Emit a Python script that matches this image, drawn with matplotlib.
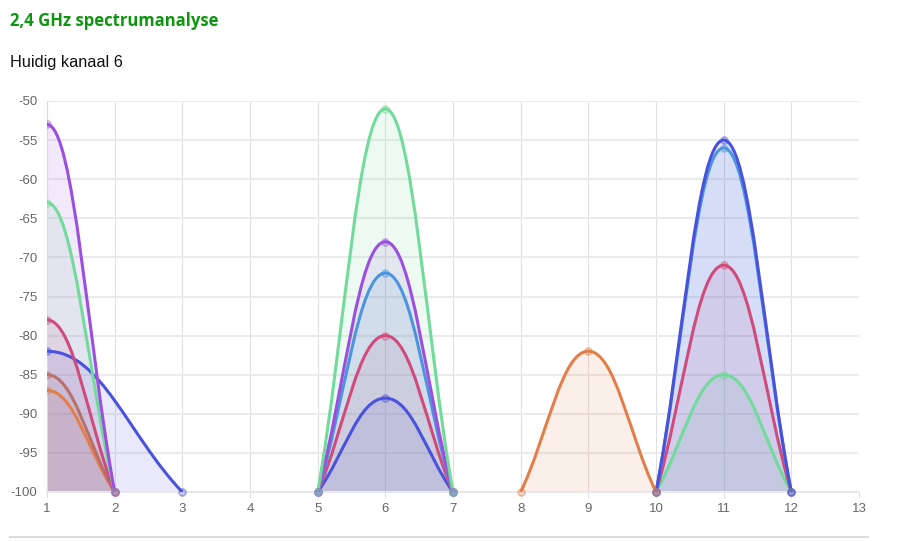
import numpy as np
import matplotlib
matplotlib.use('Agg')
import matplotlib.pyplot as plt
from matplotlib.path import Path
from matplotlib.patches import PathPatch
from matplotlib.lines import Line2D
from matplotlib.colors import to_rgba

plt.rcParams['font.family'] = ['Liberation Sans', 'DejaVu Sans']
plt.rcParams['axes.unicode_minus'] = False

# gemeten signalen (kanaal, dBm) - eindpunten op -100
purple_ch1_x = [0, 1, 2]
purple_ch1_y = [-100, -53, -100]
green_ch1_x = [0, 1, 2]
green_ch1_y = [-100, -63, -100]
pink_ch1_x = [0, 1, 2]
pink_ch1_y = [-100, -78, -100]
blue_ch1_x = [-1, 1, 3]
blue_ch1_y = [-100, -82, -100]
brown_ch1_x = [0, 1, 2]
brown_ch1_y = [-100, -85, -100]
orange_ch1_x = [0, 1, 2]
orange_ch1_y = [-100, -87, -100]

ch6_x = [5, 6, 7]
green_ch6_y = [-100, -51, -100]
purple_ch6_y = [-100, -68, -100]
lblue_ch6_y = [-100, -72, -100]
pink_ch6_y = [-100, -80, -100]
blue_ch6_y = [-100, -88, -100]

orange_ch9_x = [8, 9, 10]
orange_ch9_y = [-100, -82, -100]

ch11_x = [10, 11, 12]
blue_ch11_y = [-100, -55, -100]
lblue_ch11_y = [-100, -56, -100]
pink_ch11_y = [-100, -71, -100]
green_ch11_y = [-100, -85, -100]

x_ticks = list(range(1, 14))
y_ticks = list(range(-100, -49, 5))

PURPLE = '#9a4fe0'
GREEN = '#72da9a'
PINK = '#d04a7c'
BLUE = '#4a52dd'
LBLUE = '#4c95dc'
BROWN = '#b8706e'
ORANGE = '#e37e4a'

series = [
    (purple_ch1_x, purple_ch1_y, PURPLE),
    (green_ch1_x, green_ch1_y, GREEN),
    (pink_ch1_x, pink_ch1_y, PINK),
    (blue_ch1_x, blue_ch1_y, BLUE),
    (brown_ch1_x, brown_ch1_y, BROWN),
    (orange_ch1_x, orange_ch1_y, ORANGE),
    (ch6_x, green_ch6_y, GREEN),
    (ch6_x, purple_ch6_y, PURPLE),
    (ch6_x, lblue_ch6_y, LBLUE),
    (ch6_x, pink_ch6_y, PINK),
    (ch6_x, blue_ch6_y, BLUE),
    (orange_ch9_x, orange_ch9_y, ORANGE),
    (ch11_x, blue_ch11_y, BLUE),
    (ch11_x, lblue_ch11_y, LBLUE),
    (ch11_x, pink_ch11_y, PINK),
    (ch11_x, green_ch11_y, GREEN),
]

TENSION = 0.4
SX, SY = 67.7, 7.82  # pixels per data unit, for the spline weights


def spline_verts(xs, ys, t=TENSION):
    # chart.js-achtige bezier controlepunten
    pts = list(zip(xs, ys))
    n = len(pts)
    cps = []
    for i in range(n):
        prev = pts[max(i - 1, 0)]
        cur = pts[i]
        nxt = pts[min(i + 1, n - 1)]
        d01 = np.hypot((cur[0] - prev[0]) * SX, (cur[1] - prev[1]) * SY)
        d12 = np.hypot((nxt[0] - cur[0]) * SX, (nxt[1] - cur[1]) * SY)
        tot = d01 + d12
        s01 = d01 / tot if tot else 0
        s12 = d12 / tot if tot else 0
        fa, fb = t * s01, t * s12
        cp1 = (cur[0] - fa * (nxt[0] - prev[0]), cur[1] - fa * (nxt[1] - prev[1]))
        cp2 = (cur[0] + fb * (nxt[0] - prev[0]), cur[1] + fb * (nxt[1] - prev[1]))
        cps.append((cp1, cp2))
    verts = [pts[0]]
    codes = [Path.MOVETO]
    for i in range(1, n):
        verts += [cps[i - 1][1], cps[i][0], pts[i]]
        codes += [Path.CURVE4] * 3
    return verts, codes


fig = plt.figure(figsize=(8.97, 5.41), dpi=100)
ax = fig.add_axes([47 / 897, 1 - 492 / 541, 812 / 897, 391 / 541])

for xs, ys, col in reversed(series):
    verts, codes = spline_verts(xs, ys)
    fverts = verts + [(xs[-1], -100), (xs[0], -100), verts[0]]
    fcodes = codes + [Path.LINETO, Path.LINETO, Path.CLOSEPOLY]
    ax.add_patch(PathPatch(Path(fverts, fcodes), facecolor=col, alpha=0.12,
                           edgecolor='none', zorder=2))
    ax.add_patch(PathPatch(Path(verts, codes), facecolor='none', edgecolor=col,
                           lw=2.2, zorder=3))
    for x, y in zip(xs, ys):
        if x < 1:
            continue
        ax.plot([x], [y], 'o', ms=5, mfc=to_rgba(col, 0.25),
                mec=to_rgba(col, 0.45), mew=1.2, zorder=4, clip_on=(x == 1))

ax.set_xlim(1, 13)
ax.set_ylim(-100, -50)
ax.set_xticks(x_ticks)
ax.set_yticks(y_ticks)
ax.grid(True, axis='y', color='#ebebeb', lw=1.5)
ax.grid(True, axis='x', color='#e0e0e0', lw=0.8)
ax.set_axisbelow(True)
for s in ax.spines.values():
    s.set_visible(False)
ax.spines['left'].set_visible(True)
ax.spines['left'].set_color('#d9d9d9')
ax.spines['bottom'].set_visible(True)
ax.spines['bottom'].set_color('#e8e8e8')
ax.spines['bottom'].set_linewidth(1.5)
ax.tick_params(axis='both', colors='#e0e0e0', labelcolor='#666666', labelsize=9.5,
               width=0.8)
ax.tick_params(axis='x', length=4, pad=4)
ax.tick_params(axis='y', length=0, pad=7)

fig.text(10 / 897, 1 - 21 / 541, '2,4 GHz spectrumanalyse', color='#0e960e',
         fontsize=12, fontweight='bold', family=['Open Sans', 'DejaVu Sans'],
         va='center', ha='left')
fig.text(10 / 897, 1 - 63 / 541, 'Huidig kanaal 6', color='#111111',
         fontsize=11.7, va='center', ha='left')

fig.add_artist(Line2D([10 / 897, 868 / 897], [1 - 537 / 541, 1 - 537 / 541],
                      color='#dddddd', lw=1.5))

fig.savefig('out.png', dpi=100)
